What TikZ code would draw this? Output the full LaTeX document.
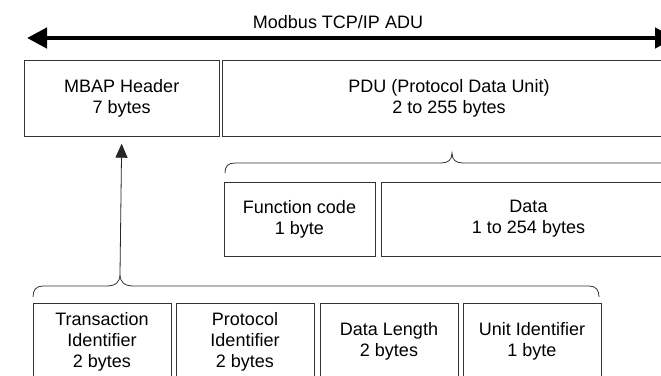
\documentclass[tikz,border=0pt]{standalone}
\usepackage{fontspec}
\setmainfont{Liberation Sans}
\usetikzlibrary{arrows.meta}
\begin{document}
\begin{tikzpicture}[x=1pt,y=-1pt,
  lbl/.style={font=\fontsize{18}{21}\selectfont, align=center, inner sep=0pt},
  box/.style={draw=black!80, line width=0.8pt, rectangle, inner sep=0pt,
              font=\fontsize{18}{21}\selectfont, align=center},
  brace/.style={draw=black!80, line width=0.8pt},
  bigarrow/.style={line width=4.5pt, {Triangle[length=20pt,width=20pt]}-{Triangle[length=20pt,width=20pt]}},
  uparrow/.style={draw=black!85, line width=0.8pt, -{Triangle[length=14pt,width=12pt]}}
]
\useasboundingbox (0,0) rectangle (661,375);
\clip (0,0) rectangle (661,375);

% top ADU arrow
\coordinate (al) at (27,38);
\coordinate (ar) at (675,38);
\draw[bigarrow] (al) -- (ar);
\node[lbl, anchor=base] (adu) at (338,28) {Modbus TCP/IP ADU};

% first row
\node[box, minimum width=195.5pt, minimum height=76.3pt] (mbap) at (121.75,98.15) {MBAP Header\\7 bytes};
\node[box, minimum width=454pt, minimum height=76.3pt] (pdu) at (449,98.15) {PDU (Protocol Data Unit)\\2 to 255 bytes};

% brace over PDU parts
\draw[brace] (225,173) .. controls (225,166) and (228,163) .. (235,163) -- (441,163)
  .. controls (448,163) and (452,160) .. (452,153)
  .. controls (452,160) and (456,163) .. (463,163) -- (666,163)
  .. controls (673,163) and (676,166) .. (676,173);

% second row
\node[box, minimum width=151pt, minimum height=74pt] (fc) at (299.5,219) {Function code\\1 byte};
\node[box, minimum width=295pt, minimum height=74pt] (data) at (528.5,219) {Data\\1 to 254 bytes};

% brace over MBAP fields
\coordinate (btip) at (120,274);
\draw[brace] (33,297) .. controls (33,290) and (36,286) .. (43,286) -- (106,286)
  .. controls (115,286) and (120,283) .. (btip)
  .. controls (120,283) and (125,286) .. (134,286) -- (589,286)
  .. controls (596,286) and (599,290) .. (599,297);
\draw[uparrow, shorten >=7pt] (btip) -- (mbap.south);

% bottom row
\node[box, minimum width=138pt, minimum height=77pt] (tid) at (102,341.5) {Transaction\\Identifier\\2 bytes};
\node[box, minimum width=138pt, minimum height=77pt] (pid) at (245,341.5) {Protocol\\Identifier\\2 bytes};
\node[box, minimum width=138pt, minimum height=77pt] (len) at (389,341.5) {Data Length\\2 bytes};
\node[box, minimum width=138pt, minimum height=77pt] (uid) at (532,341.5) {Unit Identifier\\1 byte};
\end{tikzpicture}
\end{document}
